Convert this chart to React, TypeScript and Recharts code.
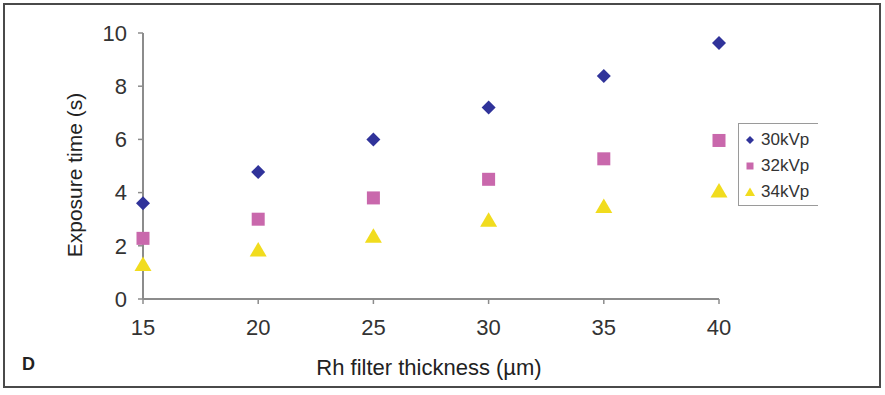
import React from 'react';
import { ScatterChart, Scatter, XAxis, YAxis } from 'recharts';

// Rh filter thickness (µm) and exposure time (s) per tube voltage
const thickness = [15, 20, 25, 30, 35, 40];
const kvp30 = [3.6, 4.77, 6.0, 7.2, 8.38, 9.62];
const kvp32 = [2.28, 3.0, 3.8, 4.5, 5.27, 5.96];
const kvp34 = [1.32, 1.86, 2.38, 2.98, 3.5, 4.08];

const xTicks = [15, 20, 25, 30, 35, 40];
const yTicks = [0, 2, 4, 6, 8, 10];

const toPoints = (ys: number[]) => thickness.map((x, i) => ({ x, y: ys[i] }));

const NAVY = '#30339a';
const PINK = '#c968ac';
const YELLOW = '#f1dc1e';
const FONT = '"Liberation Sans", Arial, Helvetica, sans-serif';

const Diamond = ({ cx, cy }: any) => (
  <path d={`M${cx},${cy - 7} L${cx + 7},${cy} L${cx},${cy + 7} L${cx - 7},${cy} Z`} fill={NAVY} />
);

const Square = ({ cx, cy }: any) => <rect x={cx - 6.5} y={cy - 6.5} width={13} height={13} fill={PINK} />;

const Triangle = ({ cx, cy }: any) => (
  <path d={`M${cx},${cy - 7.5} L${cx + 8.5},${cy + 7} L${cx - 8.5},${cy + 7} Z`} fill={YELLOW} />
);

const series = [
  { name: '30kVp', data: toPoints(kvp30), shape: Diamond },
  { name: '32kVp', data: toPoints(kvp32), shape: Square },
  { name: '34kVp', data: toPoints(kvp34), shape: Triangle },
];

const LegendIcon = ({ name }: { name: string }) => {
  if (name === '30kVp') return <path d="M5,1 L9,5 L5,9 L1,5 Z" fill={NAVY} />;
  if (name === '32kVp') return <rect x={1.5} y={1.5} width={7} height={7} fill={PINK} />;
  return <path d="M5,0.5 L10,9 L0,9 Z" fill={YELLOW} />;
};

// legend sits over the plot, so it is laid out outside the chart's own offsets
const LegendBox = () => (
  <div
    style={{
      position: 'absolute',
      left: 738,
      top: 123,
      width: 80,
      height: 83,
      boxSizing: 'border-box',
      borderTop: '1px solid #9a9a9a',
      borderLeft: '1px solid #9a9a9a',
      borderBottom: '1px solid #9a9a9a',
      background: '#fff',
      paddingTop: 3,
      fontFamily: FONT,
      fontSize: 17,
      color: '#333',
    }}
  >
    {series.map((s) => (
      <div key={s.name} style={{ display: 'flex', alignItems: 'center', height: 26, paddingLeft: 6 }}>
        <svg width={10} height={10} style={{ marginRight: 6 }}>
          <LegendIcon name={s.name} />
        </svg>
        <span>{s.name}</span>
      </div>
    ))}
  </div>
);

export default function App() {
  return (
    <div style={{ position: 'absolute', left: 0, top: 0, width: 885, height: 395, background: '#fff' }}>
      <ScatterChart width={885} height={395} margin={{ top: 33, right: 166, bottom: 0, left: 0 }}>
        <XAxis
          type="number"
          dataKey="x"
          domain={[15, 40]}
          ticks={xTicks}
          height={96}
          axisLine={{ stroke: '#8c8c8c', strokeWidth: 2 }}
          tickLine={{ stroke: '#8c8c8c', strokeWidth: 1.5 }}
          tickSize={5}
          tickMargin={15}
          tick={{ fill: '#333', fontSize: 22, fontFamily: FONT }}
        />
        <YAxis
          type="number"
          dataKey="y"
          domain={[0, 10]}
          ticks={yTicks}
          width={143}
          axisLine={{ stroke: '#8c8c8c', strokeWidth: 2 }}
          tickLine={{ stroke: '#8c8c8c', strokeWidth: 1.5 }}
          tickSize={5}
          tickMargin={11}
          tick={{ fill: '#333', fontSize: 22, fontFamily: FONT }}
        />
        {series.map((s) => (
          <Scatter key={s.name} name={s.name} data={s.data} shape={s.shape} isAnimationActive={false} />
        ))}
        <text
          x={82}
          y={175}
          transform="rotate(-90 82 175)"
          textAnchor="middle"
          fontFamily={FONT}
          fontSize={21}
          fill="#222"
        >
          Exposure time (s)
        </text>
        <text x={429} y={375} textAnchor="middle" fontFamily={FONT} fontSize={22} fill="#222">
          Rh filter thickness (µm)
        </text>
        <text x={22} y={370} fontFamily={FONT} fontSize={18} fontWeight="bold" fill="#222">
          D
        </text>
        <rect x={4} y={4} width={876} height={383} fill="none" stroke="#4a4a4a" strokeWidth={2} />
      </ScatterChart>
      <LegendBox />
    </div>
  );
}
